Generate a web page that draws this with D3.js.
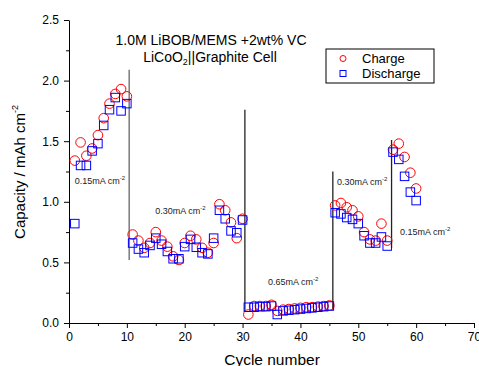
<!DOCTYPE html>
<html lang="en">
<head>
    <meta charset="UTF-8">
    <title>Capacity vs cycle</title>
    <style>
        body { margin: 0; background: #fff; }
        svg { display: block; font-family: Arial, "Liberation Sans", sans-serif; }
    </style>
</head>
<body>
    <div id="chart"></div>
    <script src="https://d3js.org/d3.v7.min.js"></script>
    <script>
        // data
        const cycles = d3.range(1, 61);
        const charge = [
            1.34, 1.49, 1.38, 1.44, 1.55, 1.69, 1.81, 1.89, 1.93, 1.87,
            0.73, 0.68, 0.62, 0.66, 0.75, 0.68, 0.63, 0.55, 0.52, 0.66,
            0.72, 0.69, 0.62, 0.58, 0.66, 0.98, 0.93, 0.83, 0.70, 0.86,
            0.07, 0.14, 0.14, 0.14, 0.15, 0.10, 0.11, 0.115, 0.12, 0.125, 0.13, 0.13, 0.135, 0.14, 0.145,
            0.97, 0.99, 0.955, 0.93, 0.88, 0.75, 0.69, 0.68, 0.82, 0.68,
            1.43, 1.48, 1.37, 1.24, 1.11
        ];
        const discharge = [
            0.82, 1.30, 1.30, 1.42, 1.48, 1.63, 1.76, 1.86, 1.75, 1.81,
            0.66, 0.61, 0.58, 0.64, 0.70, 0.65, 0.59, 0.53, 0.53, 0.63,
            0.69, 0.625, 0.58, 0.57, 0.70, 0.93, 0.86, 0.76, 0.745, 0.85,
            0.13, 0.13, 0.135, 0.135, 0.14, 0.07, 0.10, 0.105, 0.11, 0.115, 0.12, 0.125, 0.13, 0.135, 0.14,
            0.91, 0.90, 0.87, 0.855, 0.82, 0.72, 0.66, 0.66, 0.71, 0.635,
            1.41, 1.35, 1.21, 1.08, 1.01
        ];
        // separators between current densities
        const sepCycle = [10.4, 30.4, 45.6, 55.75];
        const sepLow = [0.52, 0.10, 0.11, 0.62];
        const sepHigh = [2.09, 1.76, 1.25, 1.51];
        const sepColor = ['#666', '#222', '#222', '#222'];
        // current density labels
        const rateText = ['0.15mA cm', '0.30mA cm', '0.65mA cm', '0.30mA cm', '0.15mA cm'];
        const rateCycle = [1.0, 14.9, 34.4, 46.3, 57.2];
        const rateValue = [1.15, 0.90, 0.315, 1.14, 0.73];

        const width = 479, height = 366;
        const margin = { top: 20, right: 5, bottom: 43, left: 69 };
        const innerWidth = width - margin.left - margin.right;
        const innerHeight = height - margin.top - margin.bottom;

        const svg = d3.select('#chart').append('svg')
            .attr('width', width)
            .attr('height', height);

        const g = svg.append('g')
            .attr('transform', `translate(${margin.left}, ${margin.top})`);

        const x = d3.scaleLinear().domain([0, 70]).range([0, innerWidth]);
        const y = d3.scaleLinear().domain([0, 2.5]).range([innerHeight, 0]);

        // minor ticks
        g.append('g')
            .attr('transform', `translate(0, ${innerHeight})`)
            .call(d3.axisBottom(x).tickValues(d3.range(5, 70, 10)).tickSize(3).tickFormat(''))
            .call(a => a.select('.domain').remove());
        g.append('g')
            .call(d3.axisLeft(y).tickValues(d3.range(0.25, 2.5, 0.5)).tickSize(3).tickFormat(''))
            .call(a => a.select('.domain').remove());

        // major axes
        const xAxis = g.append('g')
            .attr('transform', `translate(0, ${innerHeight})`)
            .call(d3.axisBottom(x).tickValues(d3.range(0, 71, 10)).tickSize(5).tickSizeOuter(0).tickPadding(4));
        const yAxis = g.append('g')
            .call(d3.axisLeft(y).tickValues(d3.range(0, 2.51, 0.5)).tickFormat(d3.format('.1f')).tickSize(5).tickSizeOuter(0).tickPadding(5));

        [xAxis, yAxis].forEach(a => {
            a.selectAll('text').attr('font-size', 12).attr('fill', '#000');
            a.selectAll('line, path').attr('stroke', '#000');
        });
        svg.selectAll('.tick line').attr('stroke', '#000');

        // axis titles
        svg.append('text')
            .attr('x', 272).attr('y', 365)
            .attr('text-anchor', 'middle')
            .attr('font-size', 15.5)
            .text('Cycle number');

        const yt = svg.append('text')
            .attr('transform', 'translate(25, 172) rotate(-90)')
            .attr('text-anchor', 'middle')
            .attr('font-size', 15);
        yt.append('tspan').text('Capacity / mAh cm');
        yt.append('tspan').attr('font-size', 9).attr('dy', -7).text('-2');

        // separator lines
        g.append('g').selectAll('line')
            .data(sepCycle)
            .join('line')
            .attr('x1', d => x(d)).attr('x2', d => x(d))
            .attr('y1', (d, i) => y(sepLow[i]))
            .attr('y2', (d, i) => y(sepHigh[i]))
            .attr('stroke', (d, i) => sepColor[i])
            .attr('stroke-width', 1.3);

        // rate labels
        g.append('g').selectAll('text')
            .data(rateText)
            .join('text')
            .attr('x', (d, i) => x(rateCycle[i]))
            .attr('y', (d, i) => y(rateValue[i]))
            .attr('font-size', 9)
            .attr('fill', '#222')
            .each(function (d) {
                const t = d3.select(this);
                t.append('tspan').text(d);
                t.append('tspan').attr('font-size', 6).attr('dy', -4).text('-2');
            });

        // charge circles
        g.append('g').selectAll('circle')
            .data(cycles)
            .join('circle')
            .attr('cx', d => x(d))
            .attr('cy', (d, i) => y(charge[i]))
            .attr('r', 4.8)
            .attr('fill', 'none')
            .attr('stroke', '#ff0000')
            .attr('stroke-width', 1);

        // discharge squares
        const s = 8.5;
        g.append('g').selectAll('rect')
            .data(cycles)
            .join('rect')
            .attr('x', d => x(d) - s / 2)
            .attr('y', (d, i) => y(discharge[i]) - s / 2)
            .attr('width', s)
            .attr('height', s)
            .attr('fill', 'none')
            .attr('stroke', '#0000ff')
            .attr('stroke-width', 1);

        // title
        svg.append('text')
            .attr('x', 211).attr('y', 45)
            .attr('text-anchor', 'middle')
            .attr('font-size', 14)
            .text('1.0M LiBOB/MEMS +2wt% VC');
        const t2 = svg.append('text')
            .attr('x', 210).attr('y', 62)
            .attr('text-anchor', 'middle')
            .attr('font-size', 14);
        t2.append('tspan').text('LiCoO');
        t2.append('tspan').attr('font-size', 9).attr('dy', 3).text('2');
        t2.append('tspan').attr('dy', -3).text('||Graphite Cell');

        // legend
        const legend = svg.append('g');
        legend.append('rect')
            .attr('x', 326).attr('y', 49)
            .attr('width', 108).attr('height', 34)
            .attr('fill', '#fff')
            .attr('stroke', '#000');
        legend.append('circle')
            .attr('cx', 343).attr('cy', 58.5).attr('r', 3)
            .attr('fill', 'none').attr('stroke', '#ff0000');
        legend.append('rect')
            .attr('x', 340).attr('y', 70.5).attr('width', 6).attr('height', 6)
            .attr('fill', 'none').attr('stroke', '#0000ff');
        legend.append('text')
            .attr('x', 362).attr('y', 63)
            .attr('font-size', 13).text('Charge');
        legend.append('text')
            .attr('x', 362).attr('y', 78)
            .attr('font-size', 13).text('Discharge');
    </script>
</body>
</html>
